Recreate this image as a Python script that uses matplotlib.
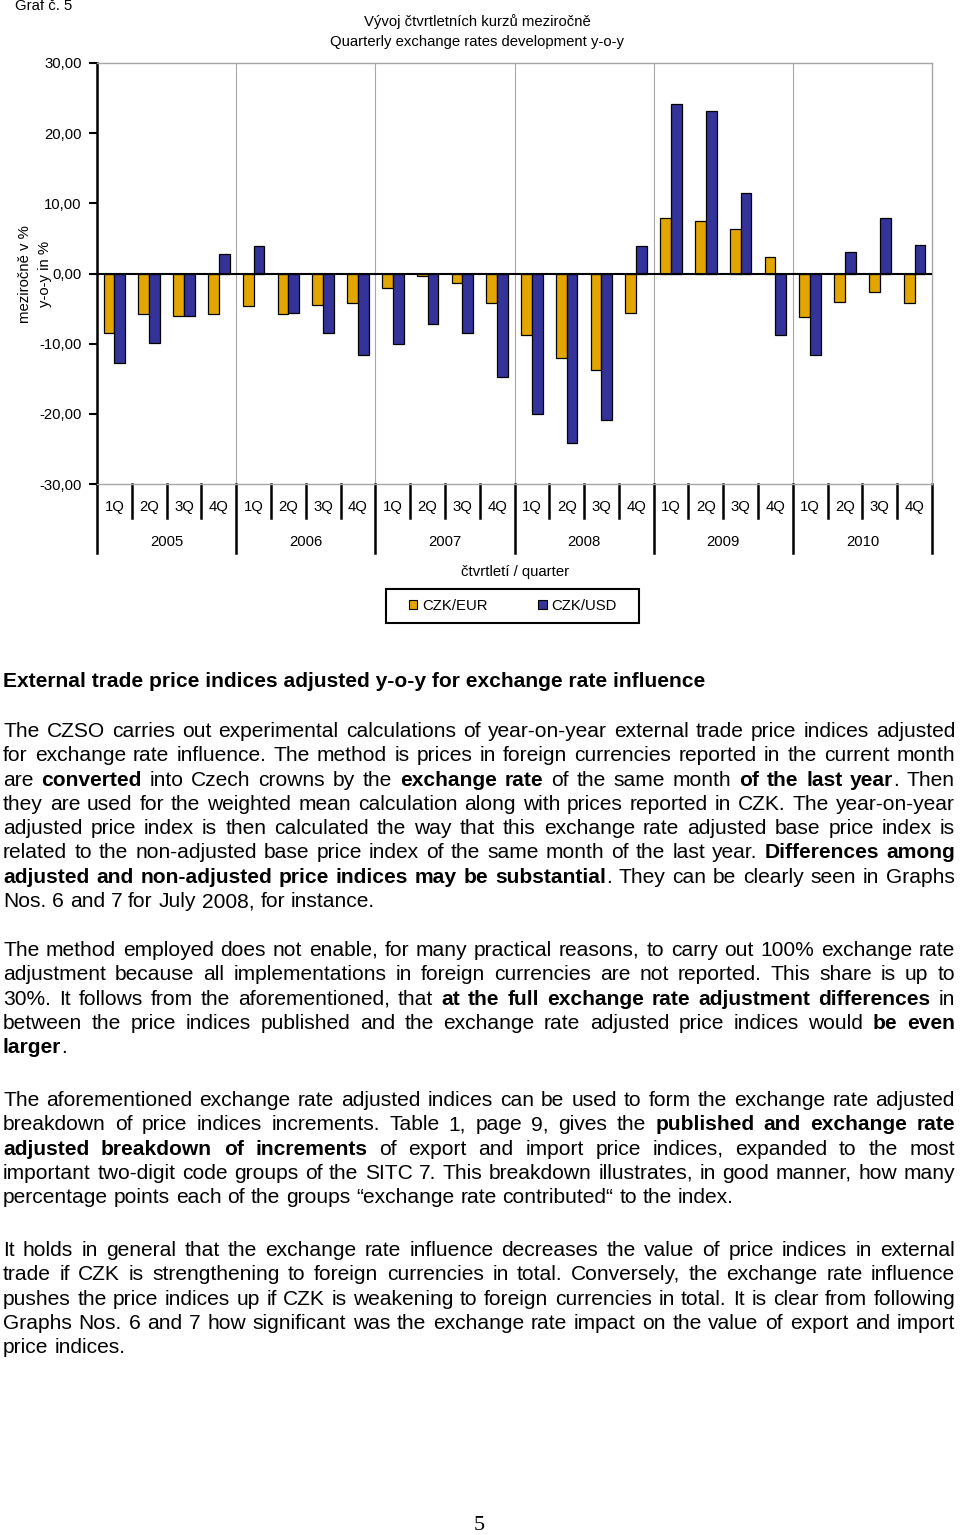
import numpy as np
import matplotlib.pyplot as plt
import matplotlib.transforms as mtransforms
from matplotlib.patches import Rectangle, Patch

plt.rcParams['font.family'] = ['Liberation Sans', 'DejaVu Sans']

# data (y-o-y change in %)
years = ['2005', '2006', '2007', '2008', '2009', '2010']
quarters = ['1Q', '2Q', '3Q', '4Q']
czk_eur = [-8.5, -5.8, -6.0, -5.8,
           -4.7, -5.8, -4.5, -4.2,
           -2.0, -0.4, -1.3, -4.2,
           -8.7, -12.1, -13.7, -5.6,
           7.9, 7.5, 6.3, 2.3,
           -6.2, -4.0, -2.7, -4.2]
czk_usd = [-12.8, -9.9, -6.0, 2.75,
           3.85, -5.6, -8.5, -11.6,
           -10.1, -7.2, -8.5, -14.8,
           -20.0, -24.1, -20.9, 3.85,
           24.2, 23.2, 11.5, -8.7,
           -11.6, 3.0, 7.9, 4.1]
y_ticks = [30, 20, 10, 0, -10, -20, -30]

W, H = 960, 1535
fig = plt.figure(figsize=(W / 100, H / 100), dpi=100)

def fx(px):
    return px / W

def fy(py):
    return 1 - py / H

EUR_COL = '#E3A600'
USD_COL = '#333399'
GRAY = '#A6A6A6'
FS = 10.7

ax = fig.add_axes([fx(97), fy(484), fx(932) - fx(97), fy(63) - fy(484)])
n = len(czk_eur)
x = np.arange(n)
bw = 0.31
ax.bar(x - bw / 2, czk_eur, bw, color=EUR_COL, edgecolor='black', linewidth=0.9, label='CZK/EUR', zorder=3)
ax.bar(x + bw / 2, czk_usd, bw, color=USD_COL, edgecolor='black', linewidth=0.9, label='CZK/USD', zorder=3)
ax.set_xlim(-0.5, n - 0.5)
ax.set_ylim(-30, 30)
ax.axhline(0, color='black', lw=1.5, zorder=4)
for k in range(4, n, 4):
    ax.axvline(k - 0.5, color=GRAY, lw=0.8, zorder=1)

ax.set_yticks(y_ticks)
ax.set_yticklabels([('%.2f' % v).replace('.', ',') for v in y_ticks], fontsize=FS)
ax.tick_params(axis='y', length=6, width=1.5, direction='out', pad=5)
ax.set_xticks([])
for s in ['top', 'right', 'bottom']:
    ax.spines[s].set_color(GRAY)
    ax.spines[s].set_linewidth(1)
ax.spines['left'].set_linewidth(1.8)

# category axis below the plot
tr = mtransforms.blended_transform_factory(ax.transData, ax.transAxes)
q_bot = -34 / 421
y_bot = -69 / 421
for k in range(n + 1):
    yb = y_bot if k % 4 == 0 else q_bot
    ax.plot([k - 0.5, k - 0.5], [0, yb], color='black', lw=1.8, transform=tr, clip_on=False)
for i in range(n):
    ax.text(i, -23 / 421, quarters[i % 4], transform=tr, ha='center', va='center', fontsize=FS)
for j, yr in enumerate(years):
    ax.text(4 * j + 1.5, -58 / 421, yr, transform=tr, ha='center', va='center', fontsize=FS)

# titles and labels
fig.text(fx(15), fy(6), 'Graf č. 5', fontsize=FS, va='center', ha='left')
fig.text(fx(477), fy(22), 'Vývoj čtvrtletních kurzů meziročně', fontsize=FS, ha='center', va='center')
fig.text(fx(477), fy(42), 'Quarterly exchange rates development y-o-y', fontsize=FS, ha='center', va='center')
fig.text(fx(25), fy(274), 'meziročně v %', fontsize=FS, rotation=90, ha='center', va='center')
fig.text(fx(45), fy(274), 'y-o-y in %', fontsize=FS, rotation=90, ha='center', va='center')
fig.text(fx(515), fy(572), 'čtvrtletí / quarter', fontsize=FS, ha='center', va='center')

# legend
fig.patches.append(Rectangle((fx(386), fy(623)), fx(639) - fx(386), fy(589) - fy(623),
                             transform=fig.transFigure, fill=False, edgecolor='black', lw=1.5))
handles = [Patch(facecolor=EUR_COL, edgecolor='black', lw=0.8, label='CZK/EUR'),
           Patch(facecolor=USD_COL, edgecolor='black', lw=0.8, label='CZK/USD')]
fig.legend(handles=handles, loc='center', bbox_to_anchor=(fx(513), fy(606)), ncol=2, frameon=False,
           fontsize=FS, handlelength=0.55, handleheight=0.55, handletextpad=0.35, columnspacing=3.4)

# body text
BODY_FS = 15.1
heading = 'External trade price indices adjusted y-o-y for exchange rate influence'
paragraphs = [
    (737, [
        'The CZSO carries out experimental calculations of year-on-year external trade price indices adjusted',
        'for exchange rate influence. The method is prices in foreign currencies reported in the current month',
        'are **converted** into Czech crowns by the **exchange rate** of the same month **of the last year**. Then',
        'they are used for the weighted mean calculation along with prices reported in CZK. The year-on-year',
        'adjusted price index is then calculated the way that this exchange rate adjusted base price index is',
        'related to the non-adjusted base price index of the same month of the last year. **Differences among**',
        '**adjusted and non-adjusted price indices may be substantial**. They can be clearly seen in Graphs',
        'Nos. 6 and 7 for July 2008, for instance.',
    ]),
    (956, [
        'The method employed does not enable, for many practical reasons, to carry out 100% exchange rate',
        'adjustment because all implementations in foreign currencies are not reported. This share is up to',
        '30%. It follows from the aforementioned, that **at the full exchange rate adjustment differences** in',
        'between the price indices published and the exchange rate adjusted price indices would **be even**',
        '**larger**.',
    ]),
    (1106, [
        'The aforementioned exchange rate adjusted indices can be used to form the exchange rate adjusted',
        'breakdown of price indices increments. Table 1, page 9, gives the **published and exchange rate**',
        '**adjusted breakdown of increments** of export and import price indices, expanded to the most',
        'important two-digit code groups of the SITC 7. This breakdown illustrates, in good manner, how many',
        'percentage points each of the groups “exchange rate contributed“ to the index.',
    ]),
    (1256, [
        'It holds in general that the exchange rate influence decreases the value of price indices in external',
        'trade if CZK is strengthening to foreign currencies in total. Conversely, the exchange rate influence',
        'pushes the price indices up if CZK is weakening to foreign currencies in total. It is clear from following',
        'Graphs Nos. 6 and 7 how significant was the exchange rate impact on the value of export and import',
        'price indices.',
    ]),
]
LINE_H = 24.3
X_L, X_R = 3, 955

renderer = fig.canvas.get_renderer()

def text_w(s, bold):
    t = fig.text(0, 0, s, fontsize=BODY_FS, weight='bold' if bold else 'normal')
    w = t.get_window_extent(renderer).width
    t.remove()
    return w

space_w = text_w('a a', False) - text_w('aa', False)

def draw_line(line, base_y, justify):
    parts = line.split('**')
    words, cur = [], []
    for i, seg in enumerate(parts):
        bold = i % 2 == 1
        pieces = seg.split(' ')
        for j, p in enumerate(pieces):
            if j > 0 and cur:
                words.append(cur)
                cur = []
            if p:
                cur.append((p, bold))
    if cur:
        words.append(cur)
    widths = [[text_w(p, b) for p, b in w] for w in words]
    total = sum(sum(w) for w in widths)
    gap = (X_R - X_L - total) / (len(words) - 1) if justify and len(words) > 1 else space_w
    xp = X_L
    for w, ws in zip(words, widths):
        for (p, b), pw in zip(w, ws):
            fig.text(fx(xp), fy(base_y), p, fontsize=BODY_FS, weight='bold' if b else 'normal',
                     ha='left', va='baseline')
            xp += pw
        xp += gap

fig.text(fx(X_L), fy(687), heading, fontsize=BODY_FS, weight='bold', ha='left', va='baseline')
for start, lines in paragraphs:
    for i, line in enumerate(lines):
        draw_line(line, start + i * LINE_H, i < len(lines) - 1)

fig.text(fx(479), fy(1525), '5', fontsize=16, family='Liberation Serif', ha='center', va='center')

fig.savefig('out.png', dpi=100)
